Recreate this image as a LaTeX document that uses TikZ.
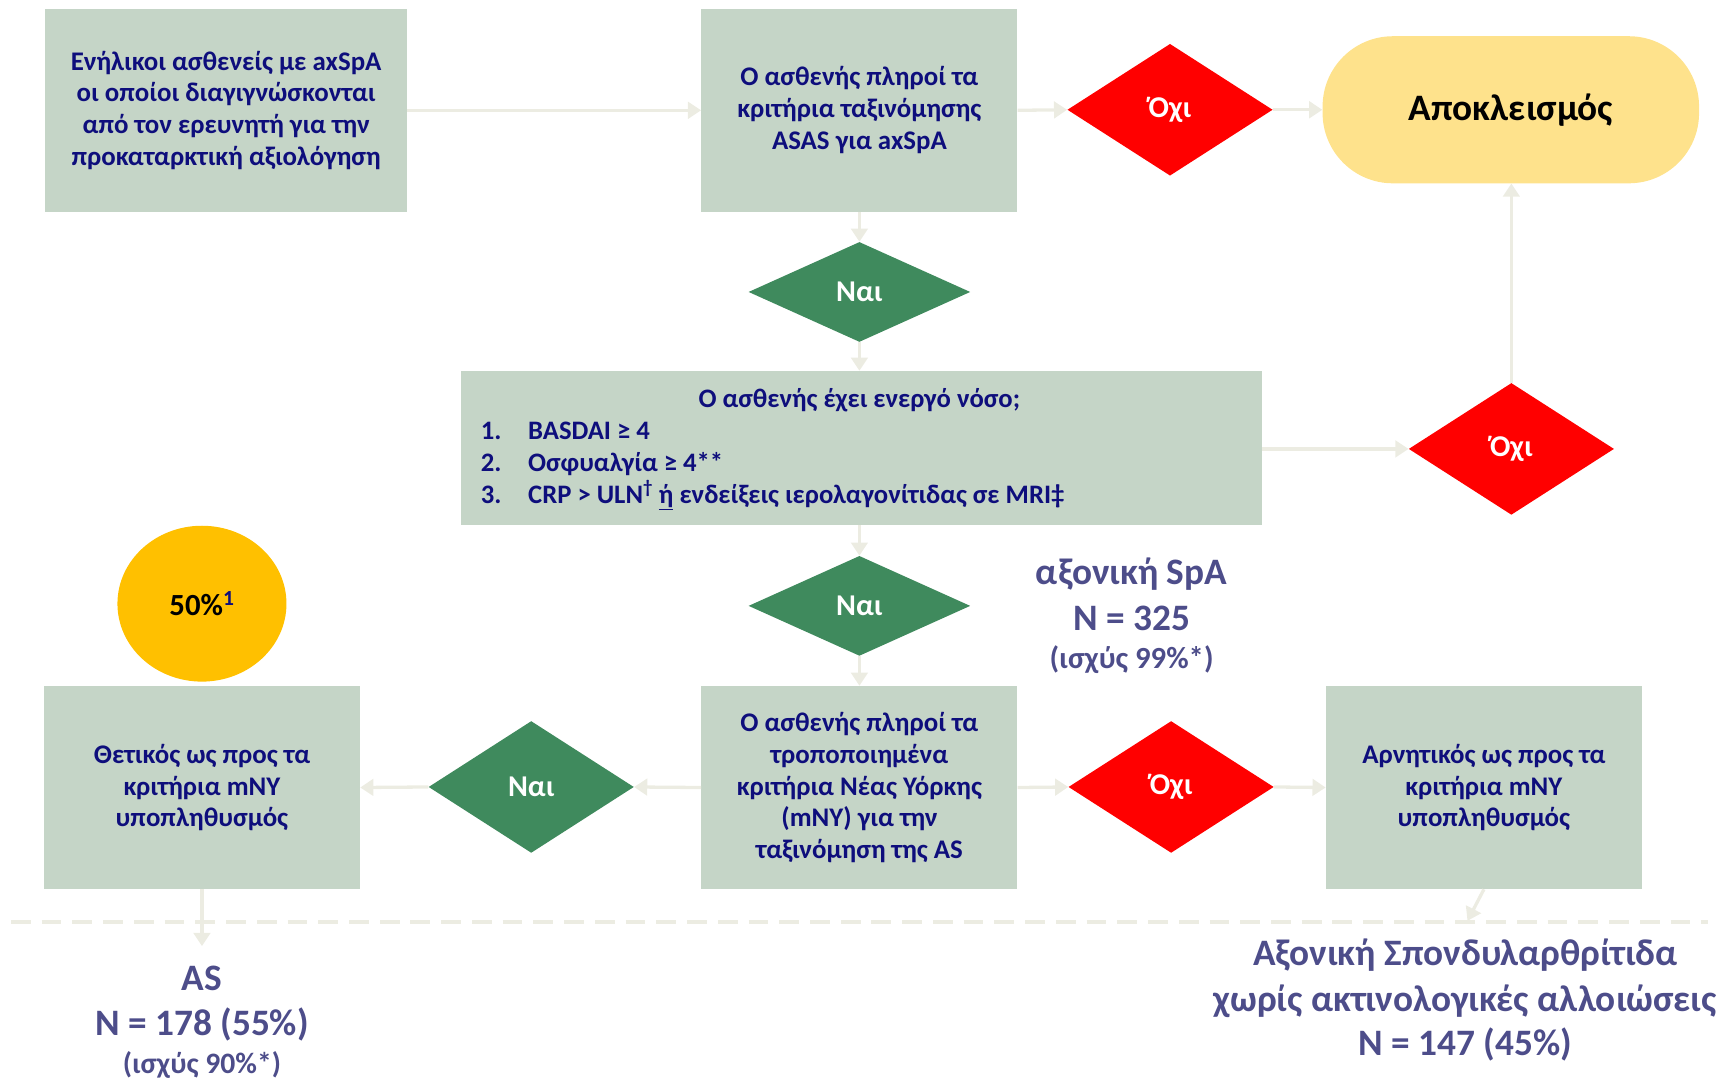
\documentclass[tikz,border=0pt]{standalone}
\usepackage{fontspec}
\setmainfont{Carlito}
\usetikzlibrary{shapes.geometric,arrows.meta}
\definecolor{boxfill}{HTML}{C5D5C7}
\definecolor{navytext}{HTML}{0E0E7C}
\definecolor{greendia}{HTML}{3F8A5D}
\definecolor{reddia}{HTML}{FF0000}
\definecolor{exclfill}{HTML}{FEE28C}
\definecolor{goldfill}{HTML}{FFC000}
\definecolor{stattext}{HTML}{4D4D8A}
\definecolor{arrowcol}{HTML}{ECECE2}
\begin{document}
\begin{tikzpicture}[x=1pt,y=-1pt,
  box/.style={rectangle, fill=boxfill, draw=none, text=navytext, align=center, inner sep=0pt,
    font=\fontsize{24.5}{29}\selectfont\bfseries},
  dia/.style={diamond, draw=none, inner sep=0pt, text=white, font=\fontsize{27.5}{30}\selectfont\bfseries},
  nodia/.style={dia, fill=reddia, minimum width=187pt, minimum height=120pt},
  yesdia/.style={dia, fill=greendia},
  conn/.style={draw=arrowcol, line width=3pt, -{Triangle[length=12pt,width=15pt]}},
  listline/.style={anchor=west, inner sep=0pt, text=navytext, text height=17pt, text depth=6pt,
    font=\fontsize{24.3}{29}\selectfont\bfseries},
  stat/.style={text=stattext, inner sep=0pt},
  statbig/.style={stat, font=\fontsize{34}{40}\selectfont\bfseries},
  statsmall/.style={stat, font=\fontsize{28}{32}\selectfont\bfseries},
]
\useasboundingbox (0,0) rectangle (1568,983);

% boxes
\node[box, minimum width=330pt, minimum height=185pt] (b1) at (206,100.5)
  {Ενήλικοι ασθενείς με axSpA\\οι οποίοι διαγιγνώσκονται\\από τον ερευνητή για την\\προκαταρκτική αξιολόγηση};
\node[box, minimum width=288pt, minimum height=185pt] (b2) at (783,100.5)
  {Ο ασθενής πληροί τα\\κριτήρια ταξινόμησης\\ASAS για axSpA};
\node[nodia] (no1) at (1066,100) {Όχι};
\node[fill=exclfill, rounded corners=64pt, minimum width=343pt, minimum height=134pt, inner sep=0pt,
  font=\fontsize{34}{38}\selectfont\bfseries, text=black] (excl) at (1376.5,100) {Αποκλεισμός};

\node[yesdia, minimum width=202pt, minimum height=91pt] (yes1) at (783,266) {Ναι};

\node[box, minimum width=730pt, minimum height=140pt] (b3) at (785,408) {};
\node[listline, anchor=center] (t3) at (783,366) {Ο ασθενής έχει ενεργό νόσο;};
\node[listline] (n31) at (438,395) {1.};
\node[listline] (l31) at (481,395) {BASDAI ≥ 4};
\node[listline] (n32) at (438,424) {2.};
\node[listline] (l32) at (481,424) {Οσφυαλγία ≥ 4**};
\node[listline] (n33) at (438,453) {3.};
\node[listline] (l33) at (481,453) {CRP > ULN\textsuperscript{†} \underline{ή} ενδείξεις ιερολαγονίτιδας σε MRI‡};

\node[nodia] (no2) at (1377,409) {Όχι};

\node[yesdia, minimum width=202pt, minimum height=91pt] (yes2) at (783,552) {Ναι};
\node[statbig] (spa1) at (1031,523) {αξονική SpA};
\node[statbig] (spa2) at (1031,563) {N = 325};
\node[statsmall] (spa3) at (1031,601) {(ισχύς 99\%*)};

\node[box, minimum width=288pt, minimum height=185pt] (b4) at (783,717.5)
  {Ο ασθενής πληροί τα\\τροποποιημένα\\κριτήρια Νέας Υόρκης\\(mNY) για την\\ταξινόμηση της AS};
\node[yesdia, minimum width=187pt, minimum height=120pt] (yes3) at (484,717) {Ναι};
\node[box, minimum width=288pt, minimum height=185pt] (b5) at (184,717.5)
  {Θετικός ως προς τα\\κριτήρια mNY\\υποπληθυσμός};
\node[nodia] (no3) at (1067,717) {Όχι};
\node[box, minimum width=288pt, minimum height=185pt] (b6) at (1352,717.5)
  {Αρνητικός ως προς τα\\κριτήρια mNY\\υποπληθυσμός};

\node[ellipse, fill=goldfill, minimum width=154pt, minimum height=142pt, inner sep=0pt,
  font=\fontsize{28}{32}\selectfont\bfseries, text=black] (pct) at (184,550)
  {50\%\textsuperscript{\color{navytext}1}};

% dashed separator
\coordinate (dl) at (10,840);
\coordinate (dr) at (1556,840);
\draw[arrowcol, line width=3pt, dash pattern=on 18pt off 10pt] (dl) -- (dr);

% bottom stats
\node[statbig] (as1) at (184,891) {AS};
\node[statbig] (as2) at (184,933) {N = 178 (55\%)};
\node[stat, font=\fontsize{27}{30}\selectfont\bfseries] (as3) at (184,970) {(ισχύς 90\%*)};
\node[statbig] (nr1) at (1335,870) {Αξονική Σπονδυλαρθρίτιδα};
\node[statbig] (nr2) at (1335,912) {χωρίς ακτινολογικές αλλοιώσεις};
\node[statbig] (nr3) at (1335,952) {N = 147 (45\%)};

\coordinate (asend) at (184,862);
\coordinate (nrend) at (1337,839);

% connectors
\draw[conn] (b1.east) -- (b2.west);
\draw[conn] (b2.east) -- (no1.west);
\draw[conn] (no1.east) -- (excl.west);
\draw[conn] (b2.south) -- (yes1.north);
\draw[conn] (yes1.south) -- (b3.north -| yes1.south);
\draw[conn] (b3.east |- no2.west) -- (no2.west);
\draw[conn] (no2.north) -- (no2.north |- excl.south);
\draw[conn] (b3.south -| yes2.north) -- (yes2.north);
\draw[conn] (yes2.south) -- (b4.north);
\draw[conn] (b4.west) -- (yes3.east);
\draw[conn] (yes3.west) -- (b5.east);
\draw[conn] (b4.east) -- (no3.west);
\draw[conn] (no3.east) -- (b6.west);
\draw[conn] (b5.south) -- (asend);
\draw[conn] (b6.south) -- (nrend);
\end{tikzpicture}
\end{document}
